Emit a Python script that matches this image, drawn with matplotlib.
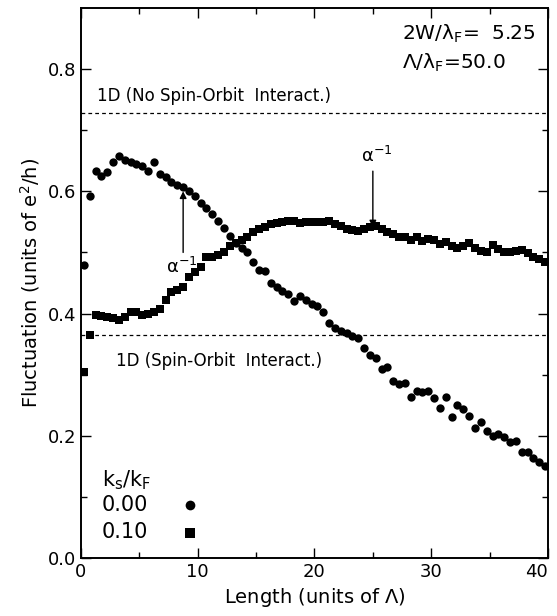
import matplotlib
matplotlib.use("Agg")
import matplotlib.pyplot as plt

plt.rcParams["font.family"] = "DejaVu Sans"
plt.rcParams["mathtext.default"] = "regular"

# Length grid (units of Lambda), shared by both series
length = [
    0.25, 0.75, 1.25, 1.75, 2.25, 2.75, 3.25, 3.75, 4.25, 4.75,
    5.25, 5.75, 6.25, 6.75, 7.25, 7.75, 8.25, 8.75, 9.25, 9.75,
    10.25, 10.75, 11.25, 11.75, 12.25, 12.75, 13.25, 13.75, 14.25, 14.75,
    15.25, 15.75, 16.25, 16.75, 17.25, 17.75, 18.25, 18.75, 19.25, 19.75,
    20.25, 20.75, 21.25, 21.75, 22.25, 22.75, 23.25, 23.75, 24.25, 24.75,
    25.25, 25.75, 26.25, 26.75, 27.25, 27.75, 28.25, 28.75, 29.25, 29.75,
    30.25, 30.75, 31.25, 31.75, 32.25, 32.75, 33.25, 33.75, 34.25, 34.75,
    35.25, 35.75, 36.25, 36.75, 37.25, 37.75, 38.25, 38.75, 39.25, 39.75,
]

# ks/kF = 0.00 (circles)
fluct_ks000 = [
    0.479, 0.592, 0.633, 0.625, 0.631, 0.648, 0.657, 0.652, 0.648, 0.644,
    0.641, 0.634, 0.648, 0.628, 0.623, 0.616, 0.611, 0.607, 0.600, 0.592,
    0.581, 0.572, 0.563, 0.551, 0.540, 0.527, 0.515, 0.508, 0.500, 0.485,
    0.472, 0.469, 0.450, 0.443, 0.437, 0.432, 0.420, 0.428, 0.422, 0.416,
    0.413, 0.403, 0.384, 0.376, 0.372, 0.368, 0.364, 0.360, 0.343, 0.332,
    0.327, 0.310, 0.313, 0.290, 0.285, 0.287, 0.264, 0.273, 0.271, 0.274,
    0.262, 0.246, 0.264, 0.231, 0.250, 0.243, 0.232, 0.212, 0.223, 0.207,
    0.199, 0.203, 0.198, 0.190, 0.191, 0.174, 0.173, 0.163, 0.157, 0.150,
]

# ks/kF = 0.10 (squares)
fluct_ks010 = [
    0.305, 0.365, 0.398, 0.396, 0.394, 0.392, 0.390, 0.394, 0.402, 0.402,
    0.398, 0.400, 0.403, 0.408, 0.422, 0.435, 0.439, 0.443, 0.460, 0.468,
    0.476, 0.492, 0.492, 0.496, 0.500, 0.511, 0.515, 0.520, 0.526, 0.533,
    0.538, 0.542, 0.546, 0.548, 0.550, 0.551, 0.551, 0.548, 0.549, 0.550,
    0.550, 0.549, 0.551, 0.547, 0.543, 0.539, 0.536, 0.535, 0.538, 0.541,
    0.543, 0.538, 0.533, 0.530, 0.526, 0.525, 0.521, 0.525, 0.518, 0.522,
    0.520, 0.514, 0.517, 0.510, 0.508, 0.511, 0.515, 0.508, 0.502, 0.500,
    0.512, 0.505, 0.501, 0.501, 0.503, 0.504, 0.499, 0.493, 0.489, 0.484,
]

# 1D reference levels
level_no_so = 0.728
level_so = 0.365

fig = plt.figure(figsize=(5.57, 6.16), dpi=100)
ax = fig.add_axes([0.1454, 0.0942, 0.8384, 0.8928])

ax.plot(length, fluct_ks000, "o", color="black", markersize=6, markeredgewidth=0)
ax.plot(length, fluct_ks010, "s", color="black", markersize=6, markeredgewidth=0)

ax.axhline(level_no_so, color="black", linestyle=(0, (3, 2.5)), linewidth=0.9)
ax.axhline(level_so, color="black", linestyle=(0, (3, 2.5)), linewidth=0.9)

ax.text(1.4, 0.742, "1D (No Spin-Orbit  Interact.)", fontsize=12, ha="left", va="bottom")
ax.text(3.0, 0.322, "1D (Spin-Orbit  Interact.)", fontsize=12, ha="left", va="center")

ax.text(27.5, 0.857, r"2W/$\lambda_F$=  5.25", fontsize=14.5, ha="left", va="center")
ax.text(27.5, 0.811, r"$\Lambda/\lambda_F$=50.0", fontsize=14.5, ha="left", va="center")

# alpha^-1 markers
ax.annotate("", xy=(8.75, 0.600), xytext=(8.75, 0.500),
            arrowprops=dict(arrowstyle="-|>", color="black", lw=1.0,
                            mutation_scale=10, shrinkA=0, shrinkB=0))
ax.text(8.6, 0.477, r"$\alpha^{-1}$", fontsize=13, ha="center", va="center")
ax.annotate("", xy=(25.0, 0.541), xytext=(25.0, 0.633),
            arrowprops=dict(arrowstyle="-|>", color="black", lw=1.0,
                            mutation_scale=10, shrinkA=0, shrinkB=0))
ax.text(25.3, 0.658, r"$\alpha^{-1}$", fontsize=13, ha="center", va="center")

# legend drawn as text
ax.text(1.8, 0.128, r"$k_s/k_F$", fontsize=15, ha="left", va="center")
ax.text(1.8, 0.087, "0.00", fontsize=15, ha="left", va="center")
ax.text(1.8, 0.043, "0.10", fontsize=15, ha="left", va="center")
ax.plot([9.3], [0.087], "o", color="black", markersize=7, markeredgewidth=0)
ax.plot([9.3], [0.041], "s", color="black", markersize=6.5, markeredgewidth=0)

ax.set_xlim(0, 40)
ax.set_ylim(0, 0.9)
ax.set_xticks([0, 10, 20, 30, 40])
ax.set_xticks([5, 15, 25, 35], minor=True)
ax.set_yticks([0.0, 0.2, 0.4, 0.6, 0.8])
ax.set_yticks([0.1, 0.3, 0.5, 0.7], minor=True)
ax.set_yticklabels(["0.0", "0.2", "0.4", "0.6", "0.8"])
ax.tick_params(which="both", direction="in", top=True, right=True, labelsize=13, width=1.0)
ax.tick_params(which="major", length=7)
ax.tick_params(which="minor", length=4)
for spine in ax.spines.values():
    spine.set_linewidth(1.4)
# keep the last x tick label inside the figure
ax.get_xticklabels()[-1].set_horizontalalignment("right")
ax.get_xticklabels()[-1].set_x(40.2)

ax.set_xlabel(r"Length (units of $\Lambda$)", fontsize=14)
ax.set_ylabel(r"Fluctuation (units of e$^2$/h)", fontsize=14)

fig.savefig("out.png", dpi=100)
